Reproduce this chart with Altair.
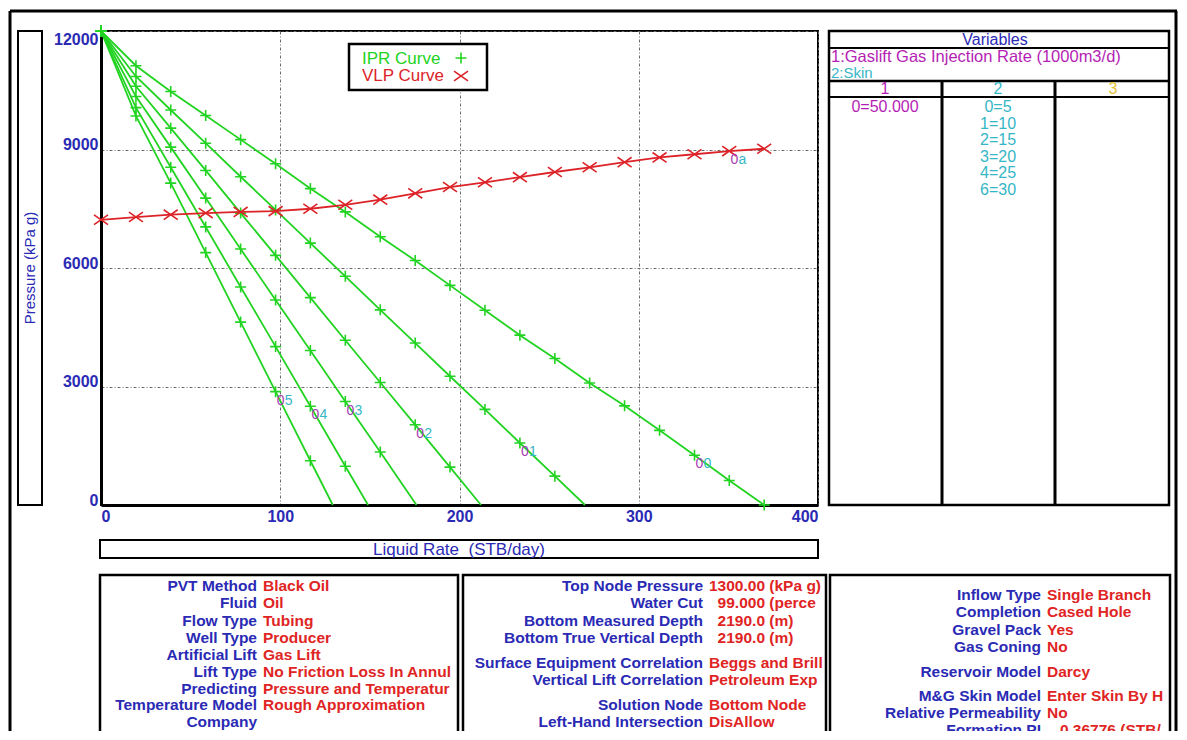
import altair as alt
import pandas as pd

# ------------------------------------------------------------------ data
rate_grid = [0.0, 19.5, 38.9, 58.4, 77.9, 97.4, 116.8, 136.3, 155.8, 175.3,
             194.7, 214.2, 233.7, 253.2, 272.6, 292.1, 311.6, 331.1, 350.5, 370.0]

ipr_00 = [12000, 11120, 10470, 9860, 9250, 8640, 8010, 7420, 6790, 6190,
          5560, 4930, 4300, 3710, 3090, 2510, 1890, 1260, 620, 0]
ipr_01 = [12000, 10850, 10000, 9160, 8310, 7470, 6630, 5790, 4940, 4100,
          3260, 2420, 1570, 730]
ipr_02 = [12000, 10600, 9540, 8470, 7390, 6320, 5250, 4170, 3100, 2030, 960]
ipr_03 = [12000, 10340, 9060, 7770, 6480, 5190, 3910, 2620, 1340]
ipr_04 = [12000, 10060, 8550, 7040, 5520, 4010, 2500, 980]
ipr_05 = [12000, 9850, 8150, 6390, 4630, 2870, 1120]
ipr_aof = [370.0, 270.0, 212.0, 176.0, 149.0, 129.3]
ipr_names = ["00", "01", "02", "03", "04", "05"]
ipr_label_idx = [17, 12, 9, 7, 6, 5]

vlp_pressure = [7220, 7290, 7350, 7390, 7420, 7440, 7500, 7600, 7730, 7890,
                8050, 8170, 8300, 8430, 8550, 8680, 8800, 8880, 8960, 9020]
vlp_name = "0a"
vlp_label_idx = 18

x_ticks = [0, 100, 200, 300, 400]
y_ticks = [0, 3000, 6000, 9000, 12000]

legend_items = ["IPR Curve", "VLP Curve"]
x_title = "Liquid Rate\u00a0\u00a0(STB/day)"
y_title = "Pressure (kPa g)"

var_title = "Variables"
var_lines = ["1:Gaslift Gas Injection Rate (1000m3/d)", "2:Skin"]
var_cols = ["1", "2", "3"]
var_col1 = ["0=50.000"]
var_col2 = ["0=5", "1=10", "2=15", "3=20", "4=25", "6=30"]

box1_labels = ["PVT Method", "Fluid", "Flow Type", "Well Type", "Artificial Lift",
               "Lift Type", "Predicting", "Temperature Model", "Company", "Field"]
box1_values = ["Black Oil", "Oil", "Tubing", "Producer", "Gas Lift",
               "No Friction Loss In Annulus", "Pressure and Temperature",
               "Rough Approximation", "", "Paraty"]
box2_labels = ["Top Node Pressure", "Water Cut", "Bottom Measured Depth",
               "Bottom True Vertical Depth", "Surface Equipment Correlation",
               "Vertical Lift Correlation", "Solution Node", "Left-Hand Intersection"]
box2_values = ["1300.00 (kPa g)", "  99.000 (percent)", "  2190.0 (m)",
               "  2190.0 (m)", "Beggs and Brill", "Petroleum Experts",
               "Bottom Node", "DisAllow"]
box3_labels = ["Inflow Type", "Completion", "Gravel Pack", "Gas Coning",
               "Reservoir Model", "M&G Skin Model", "Relative Permeability", "Formation PI"]
box3_values = ["Single Branch", "Cased Hole", "Yes", "No", "Darcy",
               "Enter Skin By Hand", "No", "   0.36776 (STB/day/psi)"]

# ------------------------------------------------------------------ styles
FONT = "Liberation Sans"
GREEN = "#22d322"
RED = "#dc2328"
BLUE = "#2a2ab4"
VRED = "#e02424"
PURPLE = "#a83cb4"
CYAN = "#36b6c6"
MAGENTA = "#b41eb4"
YELLOW = "#e6c236"

OX, OY = 101, 31          # page position of the plot origin
W, H = 717, 474

PLUS = "M-1,0L1,0M0,-1L0,1"
CROSS = "M-1,-0.7L1,0.7M-1,0.7L1,-0.7"

# ------------------------------------------------------------------ tables
ipr_curves = [ipr_00, ipr_01, ipr_02, ipr_03, ipr_04, ipr_05]
line_rows, pt_rows, lab_rows = [], [], []
for name, pres, aof, li in zip(ipr_names, ipr_curves, ipr_aof, ipr_label_idx):
    for j, p in enumerate(pres):
        line_rows.append({"curve": name, "rate": rate_grid[j], "pressure": p, "order": j})
        pt_rows.append({"curve": name, "rate": rate_grid[j], "pressure": p})
    if aof > rate_grid[len(pres) - 1]:
        line_rows.append({"curve": name, "rate": aof, "pressure": 0, "order": len(pres)})
    lab_rows.append({"rate": rate_grid[li], "pressure": pres[li],
                     "t0": name[0], "t1": name[1]})
ipr_lines = pd.DataFrame(line_rows)
ipr_pts = pd.DataFrame(pt_rows)
vlp = pd.DataFrame({"rate": rate_grid, "pressure": vlp_pressure})
lab_rows.append({"rate": rate_grid[vlp_label_idx], "pressure": vlp_pressure[vlp_label_idx],
                 "t0": vlp_name[0], "t1": vlp_name[1]})
labels = pd.DataFrame(lab_rows)
dummy = pd.DataFrame({"k": [0]})

X = alt.X("rate:Q", scale=alt.Scale(domain=[0, 400], nice=False, zero=False),
          axis=alt.Axis(values=x_ticks, title=None, grid=True, ticks=False, tickSize=0,
                        format="d", labelFlush=True, labelPadding=3, labelBaseline="top",
                        domainColor="black", domainWidth=3,
                        gridColor="#6a6a6a", gridDash=[3, 2, 1, 2], gridWidth=1))
Y = alt.Y("pressure:Q", scale=alt.Scale(domain=[0, 12000], nice=False, zero=False),
          axis=alt.Axis(values=y_ticks, title=None, grid=True, ticks=False, tickSize=0,
                        format="d", labelFlush=False, labelPadding=3,
                        labelBaseline={"condition": {"test": "datum.value >= 12000", "value": "top"},
                                       "value": "alphabetic"},
                        domainColor="black", domainWidth=3,
                        gridColor="#6a6a6a", gridDash=[3, 2, 1, 2], gridWidth=1))


def rect(x1, y1, x2, y2, sw=2, fill=None):
    if fill:
        m = alt.Chart(dummy).mark_rect(fill=fill, stroke="black", strokeWidth=sw)
    else:
        m = alt.Chart(dummy).mark_rect(filled=False, stroke="black", strokeWidth=sw)
    return m.encode(x=alt.value(x1 - OX), x2=alt.value(x2 - OX),
                    y=alt.value(y1 - OY), y2=alt.value(y2 - OY))


def rule(x1, y1, x2, y2, sw=2):
    return alt.Chart(dummy).mark_rule(color="black", strokeWidth=sw).encode(
        x=alt.value(x1 - OX), x2=alt.value(x2 - OX),
        y=alt.value(y1 - OY), y2=alt.value(y2 - OY))


def txt(s, x, y, color, size, weight="normal", align="left", angle=None, limit=None):
    lead = len(s) - len(s.lstrip(" "))
    s = s.lstrip(" ")
    x = x + lead * size * 0.278
    kw = dict(text=s, align=align, baseline="middle", font=FONT, fontSize=size,
              fontWeight=weight, color=color)
    if angle is not None:
        kw["angle"] = angle
    if limit is not None:
        kw["limit"] = limit - lead * size * 0.278
        kw["ellipsis"] = "\u200b"
    return alt.Chart(dummy).mark_text(**kw).encode(x=alt.value(x - OX), y=alt.value(y - OY))


layers = []

# ---- data layers (carry the axes)
layers.append(alt.Chart(ipr_lines).mark_line(color=GREEN, strokeWidth=1.8).encode(
    x=X, y=Y, detail="curve:N", order="order:Q"))
layers.append(alt.Chart(ipr_pts).mark_point(shape=PLUS, size=121, filled=False,
                                            strokeWidth=1.6, color=GREEN, opacity=1).encode(x=X, y=Y))
layers.append(alt.Chart(vlp).mark_line(color=RED, strokeWidth=1.8).encode(x=X, y=Y))
layers.append(alt.Chart(vlp).mark_point(shape=CROSS, size=196, filled=False,
                                        strokeWidth=1.6, color=RED, opacity=1).encode(x=X, y=Y))
layers.append(alt.Chart(labels).mark_text(font=FONT, fontSize=14, color=PURPLE, dx=5, dy=9,
                                          align="center", baseline="middle").encode(x=X, y=Y, text="t0:N"))
layers.append(alt.Chart(labels).mark_text(font=FONT, fontSize=14, color=CYAN, dx=13, dy=9,
                                          align="center", baseline="middle").encode(x=X, y=Y, text="t1:N"))

# ---- legend
layers.append(rect(349, 44, 487, 90, sw=2.5, fill="white"))
layers.append(txt(legend_items[0], 362, 59, GREEN, 17))
layers.append(txt(legend_items[1], 362, 76, RED, 17))
layers.append(alt.Chart(dummy).mark_point(shape=PLUS, size=121, filled=False, strokeWidth=1.6,
                                          color=GREEN, opacity=1).encode(
    x=alt.value(461 - OX), y=alt.value(58 - OY)))
layers.append(alt.Chart(dummy).mark_point(shape=CROSS, size=196, filled=False, strokeWidth=1.6,
                                          color=RED, opacity=1).encode(
    x=alt.value(461 - OX), y=alt.value(76 - OY)))

# ---- outer frame
layers.append(rule(10, 11, 1177, 11, sw=3))
layers.append(rule(10, 11, 10, 760, sw=3))
layers.append(rule(1176, 11, 1176, 760, sw=3))

# ---- axis title boxes
layers.append(rect(18, 31, 42, 505, sw=2))
layers.append(txt(y_title, 30, 268, BLUE, 15, align="center", angle=270))
layers.append(rect(100, 540, 818, 558, sw=2))
layers.append(txt(x_title, 459, 550, BLUE, 17, align="center"))

# ---- variables panel
layers.append(rect(829, 31, 1169, 505, sw=2.5))
layers.append(rule(829, 48, 1169, 48, sw=2))
layers.append(rule(829, 81, 1169, 81, sw=2.5))
layers.append(rule(829, 97, 1169, 97, sw=2))
layers.append(rule(942, 81, 942, 505, sw=3))
layers.append(rule(1055, 81, 1055, 505, sw=3))
layers.append(txt(var_title, 995, 40, BLUE, 16, align="center"))
layers.append(txt(var_lines[0], 831, 56.5, MAGENTA, 16.5))
layers.append(txt(var_lines[1], 831, 72.5, CYAN, 15))
for s, cx, col in zip(var_cols, [885, 998, 1113], [MAGENTA, CYAN, YELLOW]):
    layers.append(txt(s, cx, 89, col, 16, align="center"))
for i, s in enumerate(var_col1):
    layers.append(txt(s, 885, 107 + i * 16.6, MAGENTA, 16, align="center"))
for i, s in enumerate(var_col2):
    layers.append(txt(s, 998, 107 + i * 16.6, CYAN, 16, align="center"))

# ---- bottom info boxes
FS = 15.5
layers.append(rect(100, 575, 458, 735, sw=2.5))
layers.append(rect(463, 575, 826, 735, sw=2.5))
layers.append(rect(830, 575, 1170, 735, sw=2.5))

box1_y = [586, 603, 621, 638, 655, 672, 689, 705, 722, 738]
box2_y = [586, 603, 621, 638, 663, 680, 705, 722]
box3_y = [595, 612, 630, 647, 672, 696, 713, 730]
for labs, vals, ys, lx, vx, lim in [
        (box1_labels, box1_values, box1_y, 257, 263, 194),
        (box2_labels, box2_values, box2_y, 703, 709, 116),
        (box3_labels, box3_values, box3_y, 1041, 1047, 122)]:
    for lab, val, yy in zip(labs, vals, ys):
        layers.append(txt(lab, lx, yy, BLUE, FS, weight="bold", align="right"))
        if val:
            layers.append(txt(val, vx, yy, VRED, FS, weight="bold", limit=lim))

chart = alt.layer(*layers).properties(
    width=W, height=H,
    padding={"left": 93, "top": 23, "right": 360, "bottom": 226},
    autosize=alt.AutoSizeParams(type="none"),
).configure(background="white").configure_view(
    stroke="black", strokeWidth=2
).configure_axis(
    labelFont=FONT, labelFontSize=16, labelFontWeight="bold", labelColor=BLUE
)

chart.save("out.html", embed_options={"renderer": "svg", "actions": False})
